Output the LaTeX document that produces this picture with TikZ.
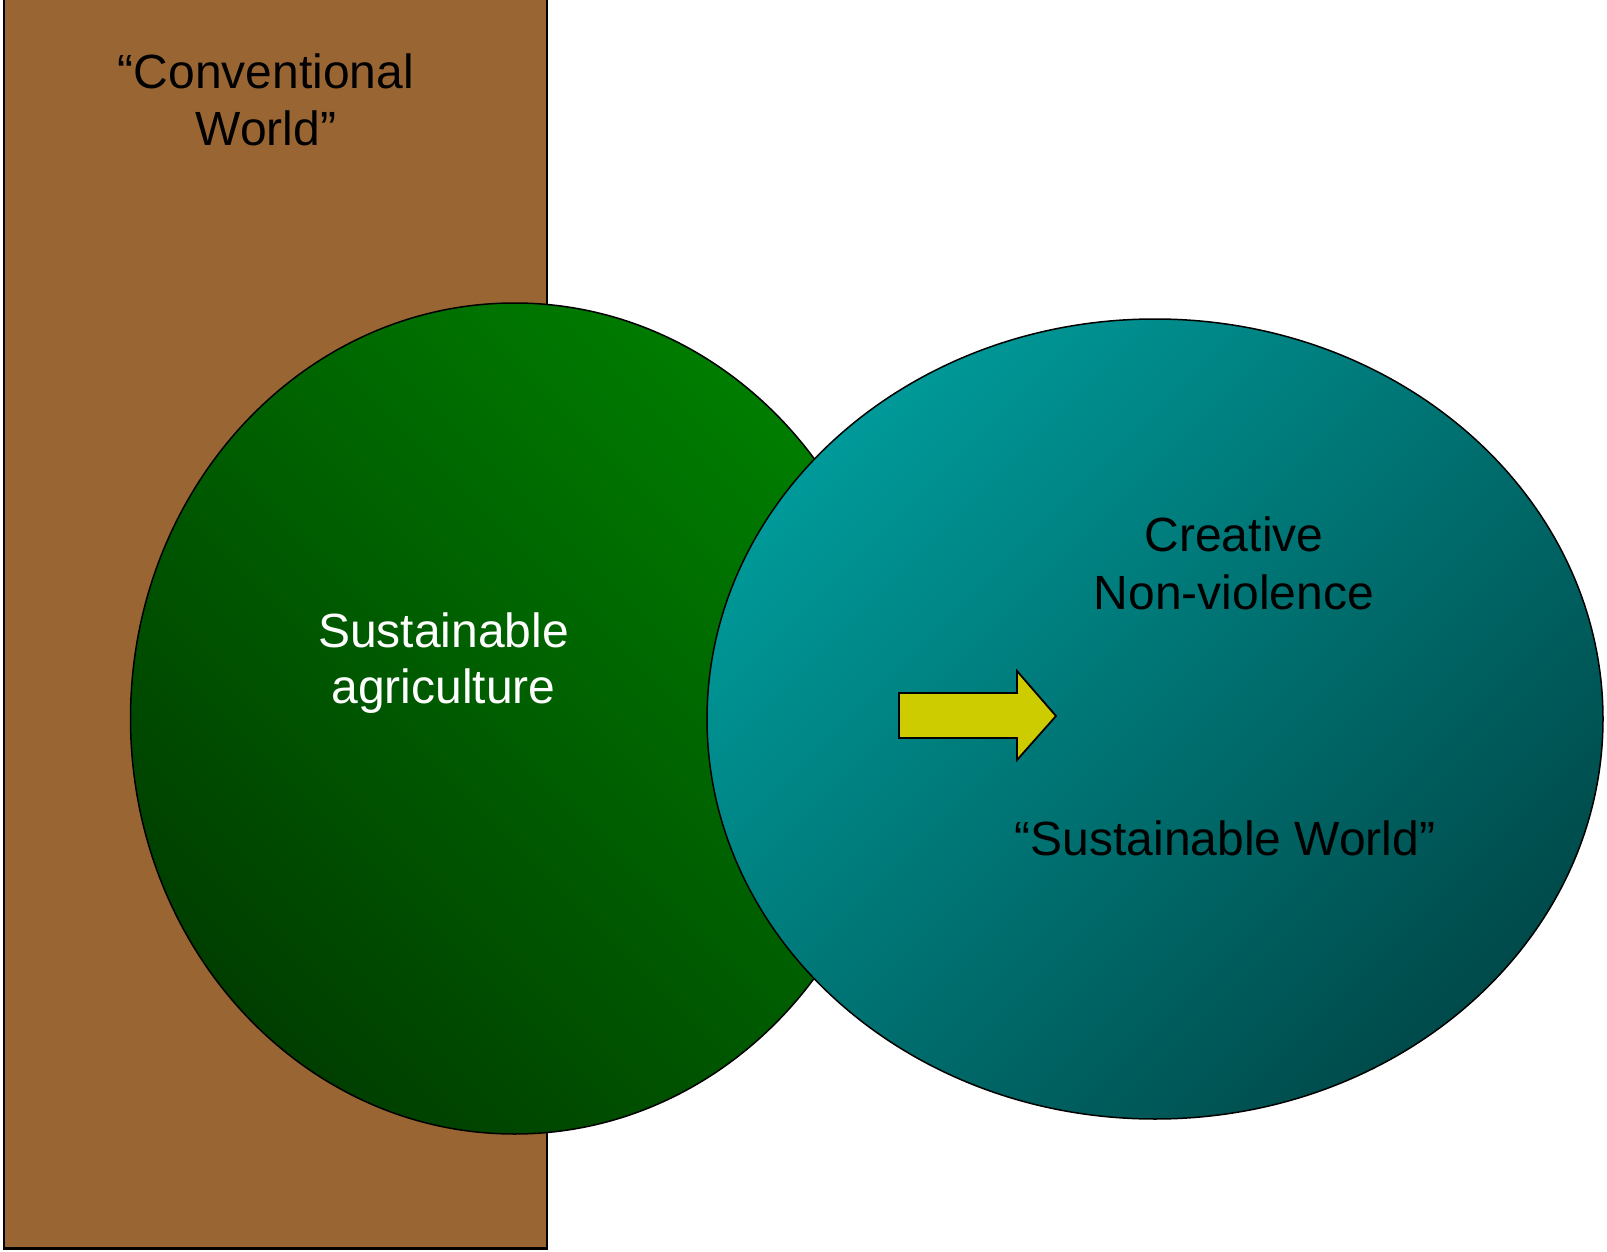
\documentclass[tikz,border=0pt]{standalone}
\usepackage{fontspec}
\setmainfont{Liberation Sans}
\usetikzlibrary{shapes.geometric}
\definecolor{brownbox}{HTML}{996633}
\definecolor{greenlight}{HTML}{007D00}
\definecolor{greendark}{HTML}{003E00}
\definecolor{teallight}{HTML}{009999}
\definecolor{tealdark}{HTML}{004A4A}
\definecolor{arrowyellow}{HTML}{CCCC00}
\tikzset{
  bigtext/.style={font=\fontsize{48}{56}\selectfont, inner sep=0pt, anchor=base},
  blob/.style={ellipse, draw=black, line width=1.5pt, inner sep=0pt},
}
\begin{document}
\begin{tikzpicture}[x=1pt,y=-1pt]
\useasboundingbox (0,0) rectangle (1607,1252);
% conventional world column
\node[draw=black, line width=2.5pt, fill=brownbox, inner sep=0pt,
      minimum width=543pt, minimum height=1249pt, anchor=north west] (column) at (2.5,-2) {};
% sustainable agriculture
\node[blob, minimum width=768pt, minimum height=831pt,
      top color=greenlight, bottom color=greendark, shading angle=-45] (agri) at (514.5,718.5) {};
% sustainable world
\node[blob, minimum width=896pt, minimum height=800pt,
      top color=teallight, bottom color=tealdark, shading angle=45] (world) at (1155,719) {};
% arrow
\draw[fill=arrowyellow, draw=black, line width=1.8pt, line join=miter]
  (899,693) -- (1017,693) -- (1017,671) -- (1056,716) -- (1017,760) -- (1017,738) -- (899,738) -- cycle;
% texts
\node[bigtext] (conv1) at (266,89) {“Conventional};
\node[bigtext] (conv2) at (266,146) {World”};
\node[bigtext, text=white] (sa1) at (443.5,647) {Sustainable};
\node[bigtext, text=white] (sa2) at (443.5,703) {agriculture};
\node[bigtext] (cn1) at (1234,551) {Creative};
\node[bigtext] (cn2) at (1234,609) {Non-violence};
\node[bigtext] (sw) at (1225,855) {“Sustainable World”};
\end{tikzpicture}
\end{document}
